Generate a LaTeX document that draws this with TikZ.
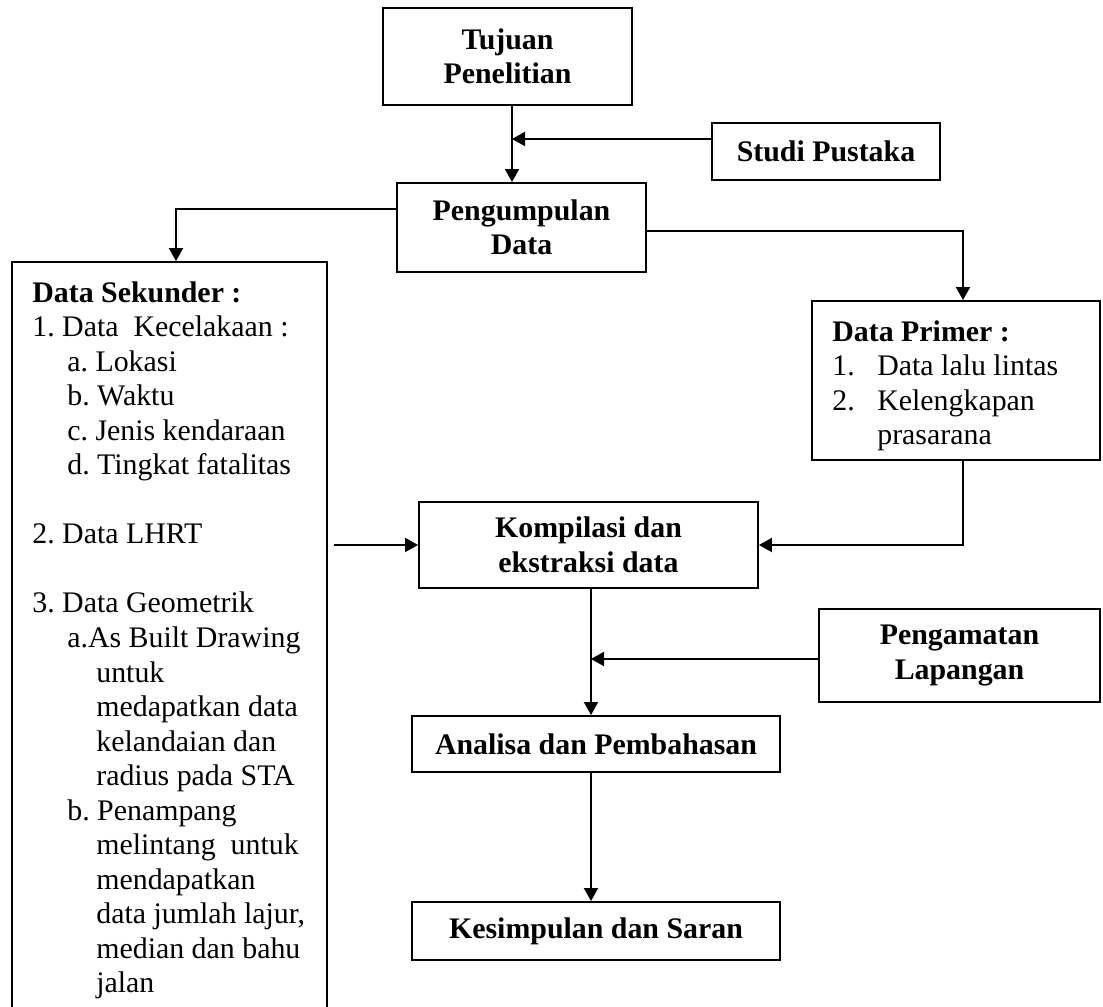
\documentclass[tikz,border=0pt]{standalone}
\usepackage{fontspec}
\setmainfont{Liberation Serif}
\usetikzlibrary{arrows.meta}
\frenchspacing

\begin{document}
\begin{tikzpicture}[
  x=0.02cm, y=-0.02cm,
  font=\fontsize{17}{19.66}\selectfont,
  >={Triangle[length=0.26cm, width=0.28cm]},
  kotak/.style={
    rectangle,
    draw=black,
    fill=white,
    inner sep=0pt,
    line width=1.1pt,
    align=center,
    font=\fontsize{17}{19.66}\selectfont\bfseries,
  },
  isi/.style={
    anchor=north west,
    inner sep=0pt,
    align=left,
    font=\fontsize{17}{19.66}\selectfont,
  },
  panah/.style={line width=1.1pt, ->},
]

  \useasboundingbox (0,0) rectangle (1103,1007);

  \node[kotak, minimum width=4.98cm, minimum height=1.94cm] (tujuan) at (507.5,56.5)
    {Tujuan\\Penelitian};
  \node[kotak, minimum width=4.56cm, minimum height=1.14cm] (studi) at (826,151.5)
    {Studi Pustaka};
  \node[kotak, minimum width=4.98cm, minimum height=1.78cm] (kumpul) at (521.5,227.5)
    {Pengumpulan\\Data};

  \node[kotak, minimum width=6.30cm, minimum height=15.06cm] (sekunder) at (169.5,638.5) {};
  \node[isi] (sekunderIsi) at (32,281)
    {\textbf{Data Sekunder :}\\
     1. Data~ Kecelakaan :\\
     \hspace*{0.7cm}a. Lokasi\\
     \hspace*{0.7cm}b. Waktu\\
     \hspace*{0.7cm}c. Jenis kendaraan\\
     \hspace*{0.7cm}d. Tingkat fatalitas\\[19.66pt]
     2. Data LHRT\\[19.66pt]
     3. Data Geometrik\\
     \hspace*{0.7cm}a.As Built Drawing\\
     \hspace*{1.28cm}untuk\\
     \hspace*{1.28cm}medapatkan data\\
     \hspace*{1.28cm}kelandaian dan\\
     \hspace*{1.28cm}radius pada STA\\
     \hspace*{0.7cm}b. Penampang\\
     \hspace*{1.28cm}melintang~ untuk\\
     \hspace*{1.28cm}mendapatkan\\
     \hspace*{1.28cm}data jumlah lajur,\\
     \hspace*{1.28cm}median dan bahu\\
     \hspace*{1.28cm}jalan};

  \node[kotak, minimum width=5.76cm, minimum height=3.18cm] (primer) at (956,380.5) {};
  \node[isi] (primerIsi) at (832,320)
    {\textbf{Data Primer :}\\
     \makebox[0.9cm][l]{1.}Data lalu lintas\\
     \makebox[0.9cm][l]{2.}Kelengkapan\\
     \hspace*{0.9cm}prasarana};

  \node[kotak, minimum width=6.78cm, minimum height=1.72cm] (kompilasi) at (588.5,545)
    {Kompilasi dan\\ekstraksi data};
  \node[kotak, minimum width=5.62cm, minimum height=1.86cm] (amat) at (959.5,655.5)
    {Pengamatan\\Lapangan};
  \node[kotak, minimum width=7.36cm, minimum height=1.12cm] (analisa) at (596,744)
    {Analisa dan Pembahasan};
  \node[kotak, minimum width=7.36cm, minimum height=1.16cm] (simpul) at (596,931)
    {Kesimpulan dan Saran};

  % titik belok
  \coordinate (j1) at (512,139);
  \coordinate (ka) at (176,209);
  \coordinate (kb) at (963,231);
  \coordinate (km) at (591,659);

  \draw[panah] (j1 |- tujuan.south) -- (j1 |- kumpul.north);
  \draw[panah] (studi.west |- j1) -- (j1);
  \draw[panah] (kumpul.west |- ka) -| (sekunder.north -| ka);
  \draw[panah] (kumpul.east |- kb) -| (primer.north -| kb);
  \draw[panah] ([xshift=0.12cm]sekunder.east |- kompilasi.west) -- (kompilasi.west);
  \draw[panah] (primer.south -| kb) |- (kompilasi.east);
  \draw[panah] (kompilasi.south -| km) -- (analisa.north -| km);
  \draw[panah] (amat.west |- km) -- (km);
  \draw[panah] (analisa.south -| km) -- (simpul.north -| km);

\end{tikzpicture}
\end{document}
